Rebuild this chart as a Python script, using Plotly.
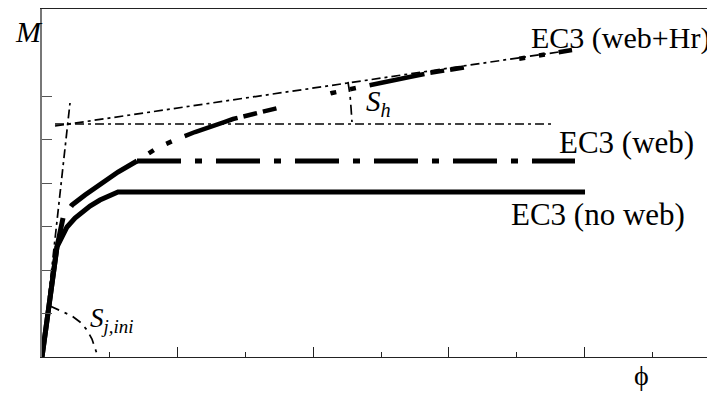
import plotly.graph_objects as go

# ---- data ----
no_web_phi = [0.0, 0.221, 0.295, 0.369, 0.487, 0.605, 0.708, 0.855, 1.003, 1.121, 8.009]
no_web_M   = [0.0, 2.529, 2.759, 2.989, 3.195, 3.356, 3.471, 3.609, 3.724, 3.793, 3.793]

web_rise_phi = [0.0, 0.221, 0.310]
web_rise_M   = [0.0, 2.529, 3.195]
web_curve_phi = [0.310, 0.442, 0.634, 0.855, 1.121, 1.401]
web_curve_M   = [3.195, 3.494, 3.724, 3.954, 4.253, 4.506]
web_flat_phi = [1.401, 7.861]
web_flat_M   = [4.506, 4.506]

hr_phi = [1.401, 1.696, 1.991, 2.257, 2.817, 3.658, 4.277, 5.103, 5.708, 6.563, 7.168, 7.817]
hr_M   = [4.506, 4.805, 5.011, 5.172, 5.471, 5.793, 6.069, 6.322, 6.529, 6.736, 6.897, 7.057]

sj_line_phi = [0.0, 0.413]
sj_line_M   = [0.0, 5.839]
sh_slope_phi = [0.192, 7.817]
sh_slope_M   = [5.310, 7.057]
plateau_phi = [0.192, 7.537]
plateau_M   = [5.356, 5.356]

sj_arc_phi = [0.118, 0.295, 0.442, 0.560, 0.664, 0.737, 0.782, 0.811]
sj_arc_M   = [1.172, 1.057, 0.943, 0.805, 0.621, 0.414, 0.230, 0.069]
sh_arc_phi = [4.513, 4.543, 4.558, 4.572]
sh_arc_M   = [6.322, 6.023, 5.724, 5.402]

x_major_ticks = [2, 4, 6, 8]
x_minor_ticks = [1, 3, 5, 7, 9]
y_ticks = [1, 2, 3, 4, 5, 6]

FONT = "Liberation Serif"
BLACK = "#000000"

fig = go.Figure()

def add(x, y, width, dash="solid", color=BLACK):
    fig.add_trace(go.Scatter(x=x, y=y, mode="lines", showlegend=False, hoverinfo="skip",
                             line=dict(color=color, width=width, dash=dash)))

thin_dash = "9px,4px,3px,4px"
add(sj_line_phi, sj_line_M, 1.7, thin_dash)
add(sh_slope_phi, sh_slope_M, 1.7, thin_dash)
add(plateau_phi, plateau_M, 1.7, thin_dash)
add(sj_arc_phi, sj_arc_M, 1.7, "10px,6px,3px,6px")
add(sh_arc_phi, sh_arc_M, 1.7, "10px,5px,3px,5px")

add(no_web_phi, no_web_M, 5)
add(web_rise_phi, web_rise_M, 5)
add(web_curve_phi, web_curve_M, 5, "0px,14px,90px")
add(web_flat_phi, web_flat_M, 5, "44px,14px,7px,14px")
add(hr_phi, hr_M, 4.5, "0px,14px,6px,14px,6px,14px,42px")

ann = [
    dict(text="EC3 (web+Hr)", x=7.183, y=7.333, size=30),
    dict(text="EC3 (web)", x=7.596, y=4.92, size=31),
    dict(text="EC3 (no web)", x=6.888, y=3.287, size=31),
    dict(text="<i>S<sub>h</sub></i>", x=4.75, y=5.839, size=29),
    dict(text="<i>S<sub>j,ini</sub></i>", x=0.68, y=0.851, size=27),
]
for a in ann:
    fig.add_annotation(x=a["x"], y=a["y"], xref="x", yref="y", text=a["text"],
                       showarrow=False, xanchor="left", yanchor="middle",
                       font=dict(family=FONT, size=a["size"], color=BLACK))
fig.add_annotation(x=-0.0431, y=0.934, xref="paper", yref="paper", text="<i>M</i>",
                   showarrow=False, xanchor="left", yanchor="middle",
                   font=dict(family=FONT, size=30, color=BLACK))
fig.add_annotation(x=0.8915, y=-0.052, xref="paper", yref="paper", text="ϕ",
                   showarrow=False, xanchor="center", yanchor="middle",
                   font=dict(family=FONT, size=28, color=BLACK))

# page body has an 8px margin, so the figure is drawn 8px smaller and margins shifted
fig.update_layout(
    width=707, height=385,
    margin=dict(l=34, r=0, t=1, b=36),
    paper_bgcolor="white", plot_bgcolor="white",
    xaxis=dict(range=[0, 9.926], showgrid=False, zeroline=False, showline=True,
               linecolor="#222", linewidth=1.2, mirror=True,
               tickmode="array", tickvals=x_major_ticks, ticks="inside", ticklen=10,
               tickcolor="#222", tickwidth=1, showticklabels=False,
               minor=dict(tickmode="array", tickvals=x_minor_ticks, ticks="inside",
                          ticklen=5, tickcolor="#222", tickwidth=1, showgrid=False)),
    yaxis=dict(range=[0, 8], showgrid=False, zeroline=False, showline=True,
               linecolor="#777", linewidth=1.5, mirror=False,
               tickmode="array", tickvals=y_ticks, ticks="inside", ticklen=10,
               tickcolor="#555", tickwidth=1, showticklabels=False),
)

fig.write_html("out.html")
